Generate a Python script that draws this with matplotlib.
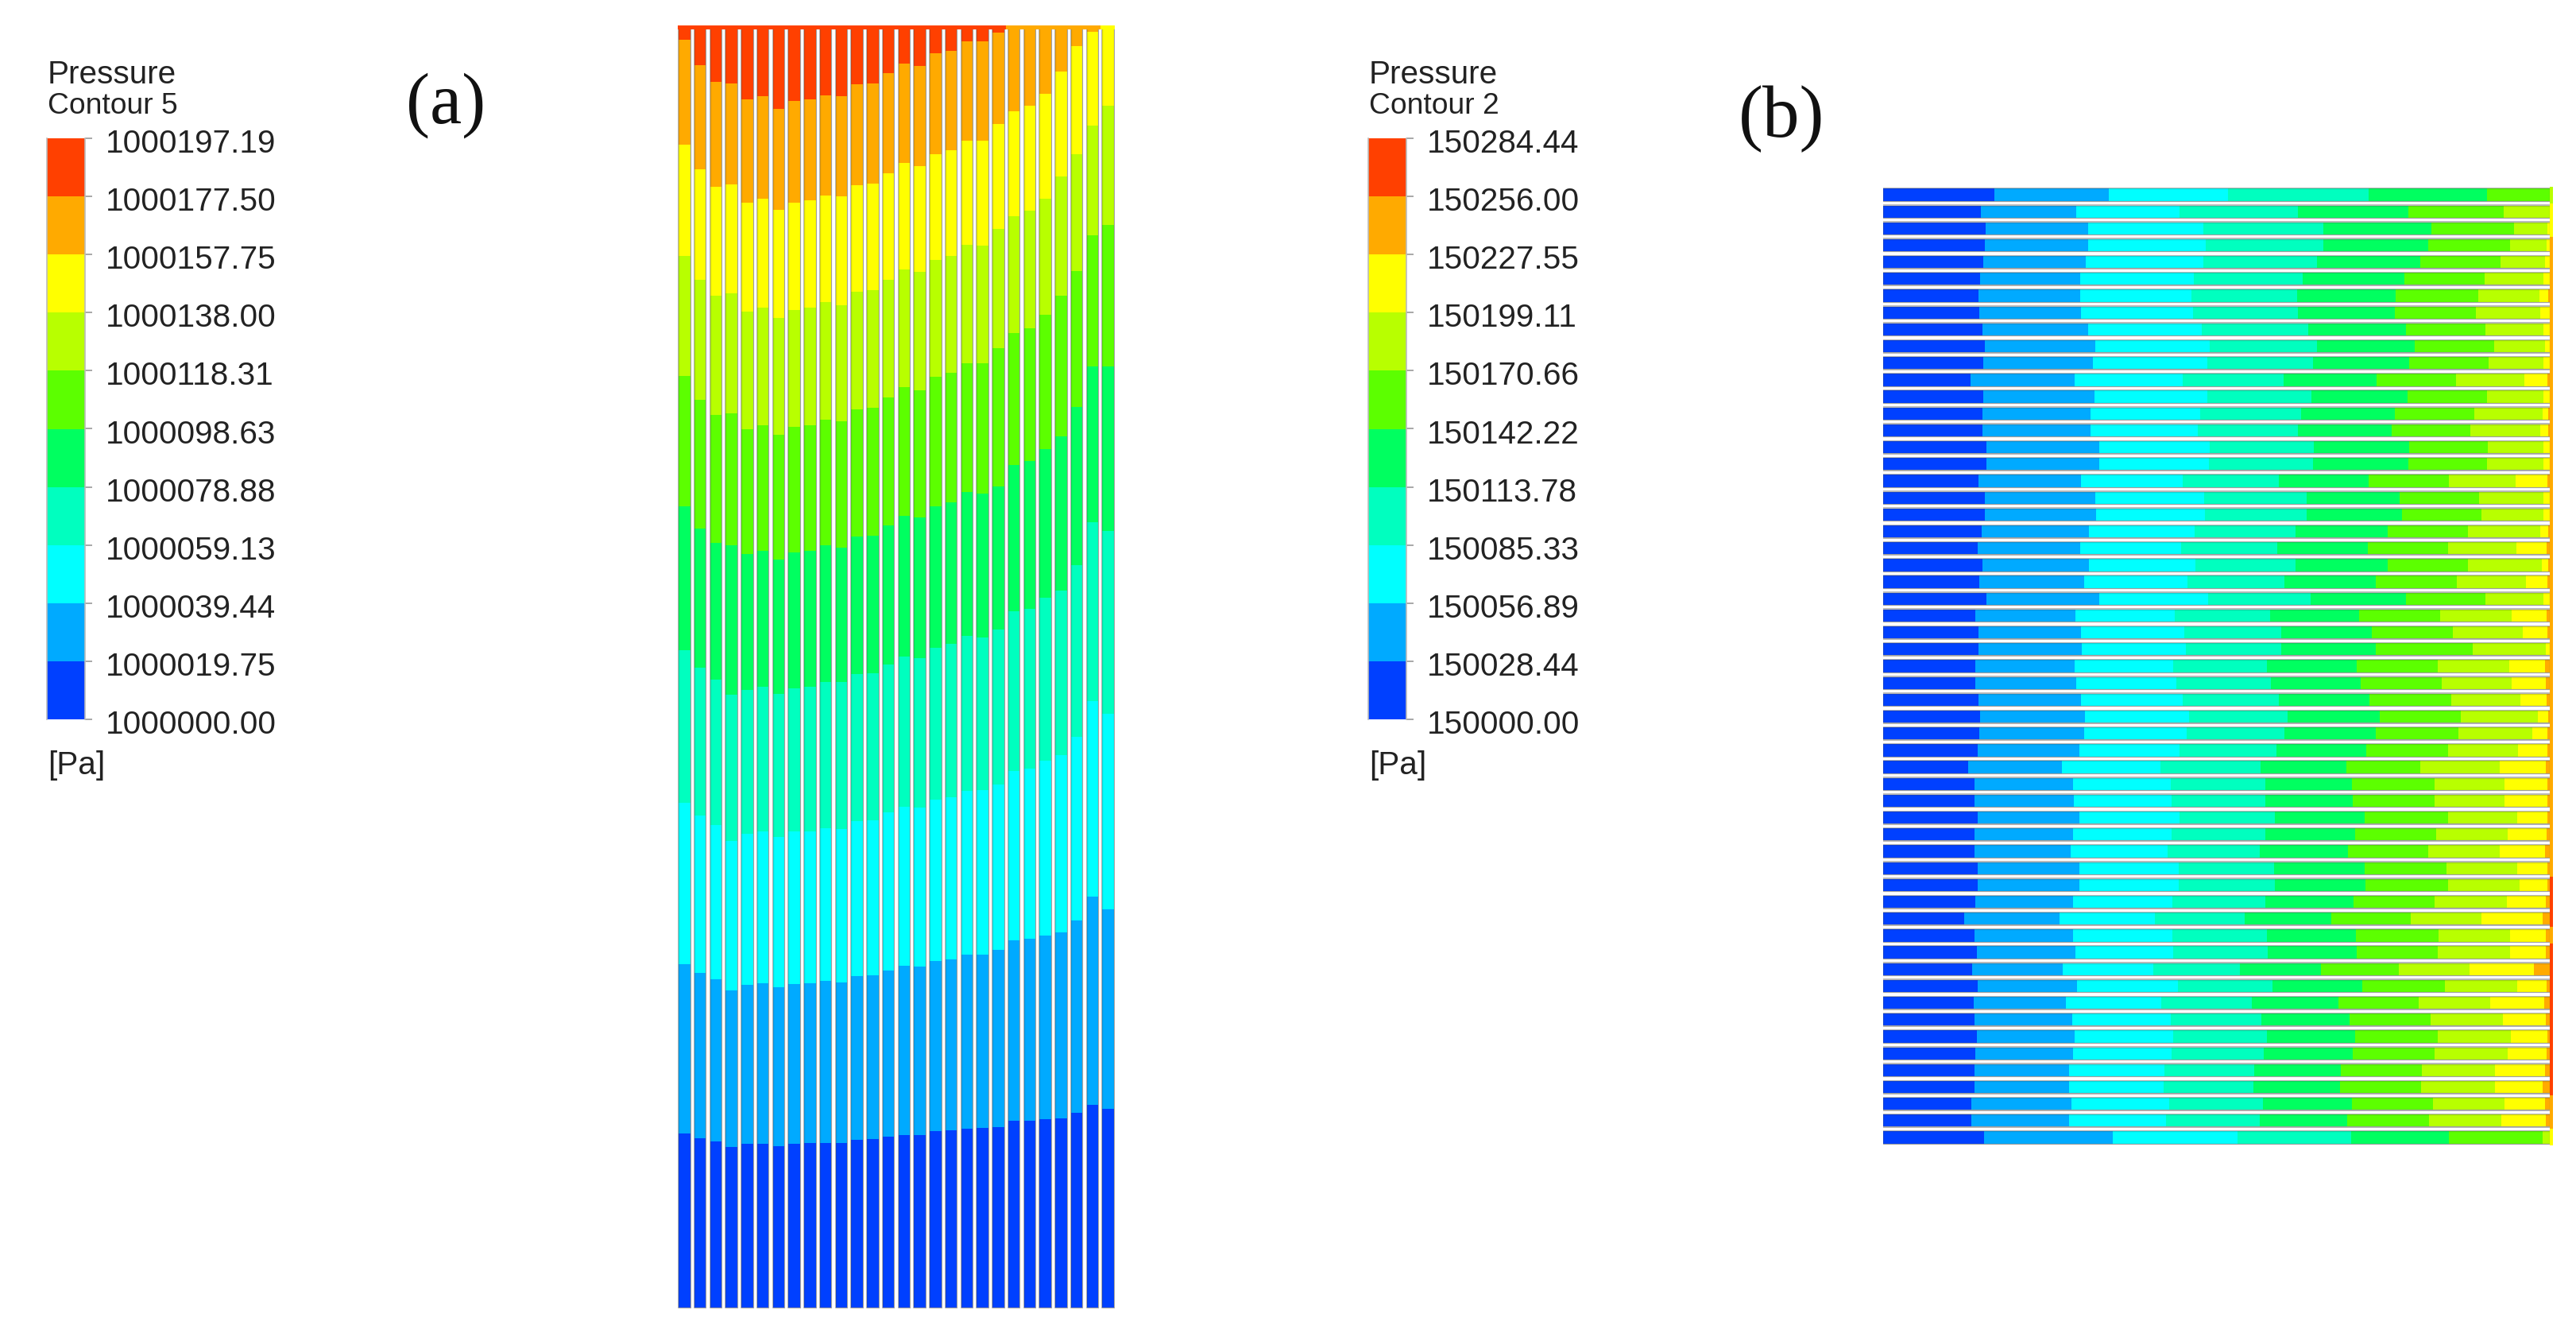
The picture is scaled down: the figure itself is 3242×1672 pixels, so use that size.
import numpy as np
import matplotlib
matplotlib.use("Agg")
import matplotlib.pyplot as plt
from matplotlib.transforms import ScaledTranslation

W, H = 3242, 1672

level_colors = ["#0040FF", "#00AAFF", "#00FFFF", "#00FFBF", "#00FF60",
                "#5CFF00", "#B8FF00", "#FFFF00", "#FFAA00", "#FF4000"]

# legend labels, bottom to top
labels_a = ["1000000.00", "1000019.75", "1000039.44", "1000059.13", "1000078.88", "1000098.63",
            "1000118.31", "1000138.00", "1000157.75", "1000177.50", "1000197.19"]
labels_b = ["150000.00", "150028.44", "150056.89", "150085.33", "150113.78", "150142.22",
            "150170.66", "150199.11", "150227.55", "150256.00", "150284.44"]

# panel (a): where each contour band ends along each of the 28 vertical channels
a_start = 1645
a_end = 32
a_b0 = [1426, 1432, 1436, 1443, 1439, 1439, 1442, 1439, 1438, 1438, 1438, 1434, 1433, 1430,
        1428, 1428, 1423, 1422, 1420, 1419, 1418, 1410, 1410, 1408, 1407, 1400, 1390, 1395]
a_b1 = [1213, 1224, 1232, 1246, 1239, 1237, 1242, 1238, 1237, 1234, 1236, 1228, 1227, 1221,
        1215, 1216, 1209, 1207, 1201, 1201, 1195, 1183, 1181, 1177, 1173, 1158, 1128, 1144]
a_b2 = [1010, 1026, 1038, 1058, 1049, 1046, 1053, 1046, 1046, 1042, 1043, 1033, 1032, 1022,
        1015, 1016, 1006, 1003, 995, 994, 987, 970, 967, 957, 950, 927, 882, 898]
a_b3 = [818, 840, 855, 874, 868, 864, 873, 866, 864, 858, 858, 848, 847, 836,
        826, 828, 815, 810, 800, 802, 792, 769, 766, 752, 743, 711, 657, 668]
a_b4 = [637, 665, 683, 686, 697, 693, 704, 695, 693, 686, 689, 675, 674, 661,
        649, 651, 637, 632, 619, 621, 612, 585, 580, 565, 549, 512, 461, 461]
a_b5 = [473, 503, 522, 520, 540, 535, 547, 537, 535, 528, 530, 515, 513, 500,
        487, 491, 474, 469, 457, 457, 438, 419, 413, 396, 372, 341, 296, 283]
a_b6 = [322, 352, 372, 369, 392, 387, 400, 390, 387, 380, 384, 367, 365, 352,
        339, 342, 327, 322, 308, 309, 288, 272, 265, 250, 222, 194, 158, 133]
a_b7 = [182, 213, 235, 232, 255, 250, 264, 255, 252, 246, 247, 233, 231, 218,
        205, 209, 194, 189, 177, 177, 156, 140, 133, 118, 90, 58, 40, 32]
a_b8 = [50, 82, 103, 105, 125, 121, 137, 127, 125, 120, 121, 106, 105, 92,
        80, 83, 67, 64, 52, 52, 41, 32, 32, 32, 32, 32, 32, 32]

# panel (b): same thing for the 57 horizontal channels
b_start = 35
b_end = 1535
b_b0 = [285, 255, 265, 264, 260, 253, 250, 252, 258, 263, 261, 232, 261, 259, 259, 268, 268, 250, 264,
        264, 256, 247, 258, 251, 268, 242, 250, 249, 242, 243, 249, 253, 252, 247, 226, 241, 241, 247,
        240, 240, 247, 247, 242, 218, 241, 246, 235, 247, 238, 241, 246, 243, 240, 240, 234, 233, 262]
b_b1 = [541, 469, 495, 495, 491, 478, 477, 479, 495, 511, 507, 465, 510, 500, 500, 520, 520, 479, 512,
        513, 498, 477, 497, 486, 520, 467, 479, 481, 465, 468, 479, 489, 486, 475, 437, 461, 463, 475,
        461, 457, 475, 475, 462, 431, 462, 467, 438, 470, 446, 459, 466, 462, 452, 452, 458, 453, 551]
b_b2 = [810, 700, 753, 760, 753, 732, 727, 730, 750, 768, 762, 707, 763, 746, 741, 768, 766, 708, 755,
        757, 735, 704, 736, 718, 765, 690, 712, 715, 686, 694, 707, 722, 716, 701, 657, 681, 682, 700,
        683, 674, 698, 698, 684, 645, 684, 687, 642, 696, 659, 680, 687, 682, 666, 665, 678, 671, 830]
b_b3 = [1125, 966, 1023, 1023, 1008, 976, 965, 966, 990, 1009, 999, 934, 996, 973, 966, 1002, 999, 924, 985,
        986, 960, 919, 960, 935, 994, 903, 929, 928, 897, 906, 924, 943, 935, 917, 883, 892, 892, 914,
        893, 880, 913, 914, 893, 846, 896, 898, 835, 909, 862, 884, 896, 890, 868, 867, 887, 880, 1086]
b_b4 = [1390, 1213, 1266, 1259, 1241, 1204, 1186, 1184, 1208, 1228, 1216, 1142, 1212, 1183, 1177, 1215, 1213, 1125, 1194,
        1199, 1167, 1122, 1167, 1141, 1208, 1103, 1132, 1140, 1097, 1106, 1127, 1149, 1141, 1119, 1074, 1088, 1089, 1116,
        1094, 1078, 1115, 1117, 1091, 1041, 1096, 1097, 1018, 1111, 1057, 1082, 1095, 1089, 1063, 1061, 1087, 1076, 1305]
b_b5 = [1535, 1428, 1450, 1442, 1420, 1385, 1370, 1365, 1386, 1407, 1394, 1320, 1390, 1361, 1353, 1391, 1390, 1305, 1373,
        1377, 1348, 1303, 1348, 1322, 1387, 1285, 1314, 1358, 1280, 1288, 1310, 1331, 1326, 1303, 1240, 1272, 1272, 1302,
        1276, 1259, 1299, 1303, 1273, 1219, 1281, 1280, 1192, 1295, 1236, 1264, 1280, 1272, 1244, 1243, 1269, 1260, 1515]
b_b6 = [1535, 1535, 1526, 1524, 1520, 1516, 1507, 1510, 1516, 1520, 1516, 1473, 1517, 1515, 1510, 1516, 1516, 1455, 1516,
        1516, 1509, 1456, 1513, 1477, 1516, 1445, 1471, 1522, 1440, 1446, 1465, 1505, 1492, 1460, 1419, 1430, 1430, 1458,
        1437, 1418, 1458, 1463, 1434, 1378, 1442, 1442, 1350, 1458, 1397, 1425, 1443, 1436, 1408, 1408, 1430, 1423, 1535]
b_b7 = [1535, 1535, 1535, 1533, 1532, 1531, 1528, 1530, 1531, 1531, 1530, 1525, 1531, 1528, 1527, 1533, 1533, 1525, 1532,
        1532, 1528, 1523, 1528, 1525, 1533, 1523, 1525, 1533, 1520, 1522, 1523, 1527, 1525, 1525, 1522, 1525, 1525, 1526,
        1523, 1520, 1525, 1526, 1522, 1514, 1522, 1522, 1495, 1524, 1518, 1522, 1525, 1524, 1520, 1515, 1520, 1522, 1535]
# band index of the collector strip on the right of panel (b)
b_strip = [6, 7, 7, 8, 8, 8, 8, 8, 8, 8, 8, 8, 8, 8, 8, 8, 8, 8, 8,
           8, 8, 8, 8, 8, 8, 8, 8, 8, 8, 8, 8, 8, 8, 8, 8, 8, 8, 8,
           8, 8, 8, 9, 9, 9, 8, 9, 9, 9, 9, 9, 9, 9, 9, 9, 8, 8, 7]

plt.rcParams["font.family"] = ["Liberation Sans", "DejaVu Sans"]
fig = plt.figure(figsize=(W / 100, H / 100), dpi=100)


def px_axes(x0, y0, x1, y1):
    # axes from reference pixel box
    return fig.add_axes([x0 / W, 1 - y1 / H, (x1 - x0) / W, (y1 - y0) / H])


def draw_legend(x0, labels, name):
    ax = px_axes(x0, 174, x0 + 48, 905)
    for i in range(10):
        ax.bar(0, 1, bottom=i, width=1, color=level_colors[i], linewidth=0)
    ax.set_xlim(-0.5, 0.5)
    ax.set_ylim(0, 10)
    ax.set_xticks([])
    ax.yaxis.tick_right()
    ax.set_yticks(range(11))
    ax.set_yticklabels(labels, fontsize=29.2, color="#222222", va="center")
    ax.tick_params(axis="y", length=6.5, width=1.2, color="#999999", pad=12)
    for s in ax.spines.values():
        s.set_color("#bbbbbb")
        s.set_linewidth(1.2)
    ax.spines["top"].set_visible(False)
    ax.spines["bottom"].set_visible(False)
    # the numbers sit a little under their ticks in the reference
    down = ScaledTranslation(0, -7 / 100, fig.dpi_scale_trans)
    for lab in ax.get_yticklabels():
        lab.set_transform(lab.get_transform() + down)
    fig.text((x0 + 1) / W, 1 - 105 / H, "Pressure", fontsize=29.2, color="#222222")
    fig.text((x0 + 1) / W, 1 - 143 / H, name, fontsize=26.8, color="#222222")
    fig.text((x0 + 1) / W, 1 - 974 / H, "[Pa]", fontsize=29.2, color="#222222")


draw_legend(59, labels_a, "Contour 5")
draw_legend(1722, labels_b, "Contour 2")

# panel (a)
ax_a = px_axes(853, a_end, 1403, a_start + 2)
x_a = np.arange(28)
a_edges = [np.full(28, a_start), a_b0, a_b1, a_b2, a_b3, a_b4, a_b5, a_b6, a_b7, a_b8, np.full(28, a_end)]
ax_a.bar(x_a, a_start + 1 - a_end, bottom=a_end, width=0.84, color="#bcbcbc", linewidth=0)
for i in range(10):
    lower = np.array(a_edges[i])
    upper = np.array(a_edges[i + 1])
    ax_a.bar(x_a, upper - lower, bottom=lower, width=0.73, color=level_colors[i], linewidth=0)
ax_a.bar(x_a, a_start - a_end, bottom=a_end, width=0.73, fill=False,
         edgecolor=(0.25, 0.25, 0.25, 0.22), linewidth=1.0)
# inlet header over the top of the channels
top_band = [9 if a_b8[i] > a_end else (8 if a_b7[i] > a_end else 7) for i in range(28)]
ax_a.bar(x_a, 5, bottom=a_end, width=1.0, color=[level_colors[k] for k in top_band], linewidth=0)
ax_a.set_xlim(-0.42, 27.42)
ax_a.set_ylim(a_start + 2, a_end)
ax_a.axis("off")

# panel (b)
ax_b = px_axes(2369.6, 235, 3213, 1441)
y_b = np.arange(57)
b_edges = [np.full(57, b_start), b_b0, b_b1, b_b2, b_b3, b_b4, b_b5, b_b6, b_b7, np.full(57, b_end)]
ax_b.barh(y_b, 1530 - b_start, left=b_start, height=0.85, color="#bcbcbc", linewidth=0)
for i in range(9):
    lower = np.array(b_edges[i])
    upper = np.array(b_edges[i + 1])
    ax_b.barh(y_b, upper - lower, left=lower, height=0.72, color=level_colors[i], linewidth=0)
ax_b.barh(y_b, 1530 - b_start, left=b_start, height=0.72, fill=False,
          edgecolor=(0.25, 0.25, 0.25, 0.22), linewidth=1.0)
ax_b.barh(y_b, 8, left=1530, height=1.0, color=[level_colors[k] for k in b_strip], linewidth=0)
ax_b.set_xlim(b_start, 1538)
ax_b.set_ylim(56.47, -0.47)
ax_b.axis("off")

fig.text(511 / W, 1 - 155 / H, "(a)", fontsize=65, family=["Liberation Serif"], color="#111111")
fig.text(2188 / W, 1 - 172 / H, "(b)", fontsize=67, family=["Liberation Serif"], color="#111111")

fig.savefig("out.png", dpi=100, facecolor="white")
